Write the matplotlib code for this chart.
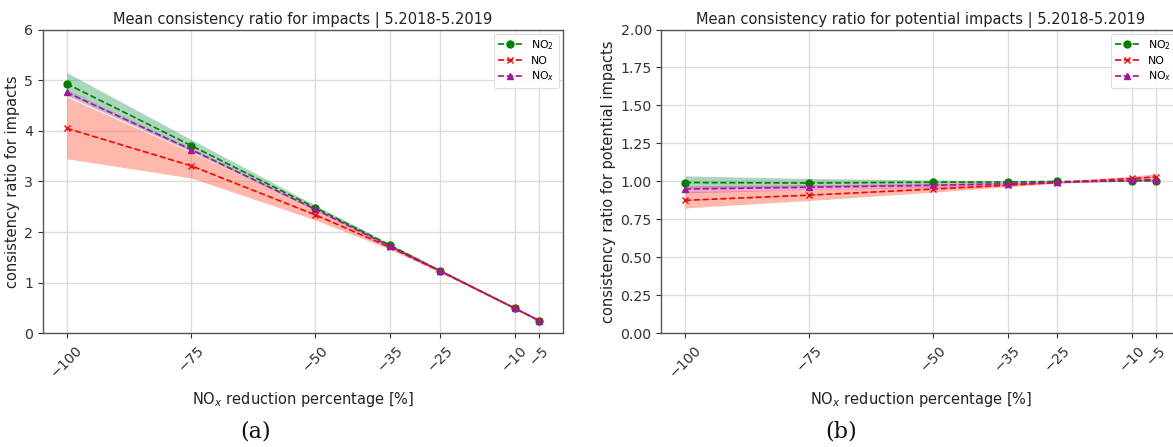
import matplotlib
matplotlib.use("Agg")
import matplotlib.pyplot as plt
import numpy as np

# NOx reduction scenarios [%]
reduction = [-100, -75, -50, -35, -25, -10, -5]
tick_labels = ["\u2212100", "\u221275", "\u221250", "\u221235", "\u221225", "\u221210", "\u22125"]

# (a) mean consistency ratio for impacts, with lower/upper band
imp_no2 = [4.93, 3.71, 2.48, 1.74, 1.24, 0.50, 0.25]
imp_no2_lo = [4.72, 3.60, 2.43, 1.72, 1.23, 0.49, 0.24]
imp_no2_hi = [5.15, 3.83, 2.53, 1.77, 1.26, 0.51, 0.26]

imp_no = [4.05, 3.31, 2.34, 1.70, 1.23, 0.50, 0.25]
imp_no_lo = [3.45, 3.07, 2.24, 1.66, 1.21, 0.49, 0.24]
imp_no_hi = [4.67, 3.58, 2.44, 1.74, 1.25, 0.51, 0.26]

imp_nox = [4.76, 3.63, 2.45, 1.72, 1.24, 0.50, 0.25]
imp_nox_lo = [4.69, 3.59, 2.43, 1.71, 1.23, 0.49, 0.24]
imp_nox_hi = [4.82, 3.67, 2.47, 1.73, 1.25, 0.51, 0.26]

# (b) mean consistency ratio for potential impacts, with lower/upper band
pot_no2 = [0.993, 0.990, 0.995, 0.997, 1.000, 1.004, 1.005]
pot_no2_lo = [0.955, 0.965, 0.980, 0.990, 0.996, 1.000, 1.000]
pot_no2_hi = [1.037, 1.020, 1.010, 1.004, 1.004, 1.008, 1.010]

pot_no = [0.876, 0.910, 0.950, 0.975, 0.993, 1.020, 1.030]
pot_no_lo = [0.826, 0.875, 0.930, 0.965, 0.988, 1.005, 1.010]
pot_no_hi = [0.935, 0.945, 0.970, 0.985, 0.998, 1.035, 1.052]

pot_nox = [0.950, 0.962, 0.975, 0.985, 0.995, 1.008, 1.012]
pot_nox_lo = [0.925, 0.945, 0.962, 0.978, 0.991, 1.003, 1.005]
pot_nox_hi = [0.972, 0.978, 0.986, 0.992, 0.999, 1.013, 1.019]

C_NO2 = "green"
C_NO = "red"
C_NOX = "#a3159b"

plt.rcParams["font.family"] = ["DejaVu Sans"]

fig = plt.figure(figsize=(11.73, 4.47), dpi=100)
ax_a = fig.add_axes([0.0367, 0.254, 0.4433, 0.680])
ax_b = fig.add_axes([0.5639, 0.254, 0.4421, 0.680])


def draw_panel(ax, series, ylabel, title, ylim, yticks, ytickfmt):
    for (y, lo, hi, color, fillc, falpha, marker, label) in series:
        ax.fill_between(reduction, lo, hi, color=fillc, alpha=falpha, linewidth=0)
    for (y, lo, hi, color, fillc, falpha, marker, label) in series:
        ax.plot(reduction, y, linestyle="--", color=color, marker=marker,
                markersize=5, linewidth=1.2, label=label)
    ax.set_xticks(reduction)
    ax.set_xticklabels(tick_labels, rotation=45)
    ax.set_ylim(*ylim)
    ax.set_yticks(yticks)
    ax.set_yticklabels([ytickfmt.format(v) for v in yticks])
    ax.grid(True, color="#dcdcdc", linewidth=1.0)
    ax.set_axisbelow(True)
    for sp in ax.spines.values():
        sp.set_color("#555555")
        sp.set_linewidth(1.0)
    ax.tick_params(axis="both", labelsize=10.2, colors="#333333", length=3.5)
    ax.set_title(title, fontsize=10.5, color="#222222", pad=4)
    ax.set_ylabel(ylabel, fontsize=10.5, color="#222222", labelpad=3)
    ax.set_xlabel("NO$_x$ reduction percentage [%]", fontsize=10.5,
                  color="#222222", labelpad=7)
    leg = ax.legend(loc="upper right", fontsize=7.8, framealpha=0.9,
                    edgecolor="#dddddd", handlelength=2.2, labelspacing=0.35,
                    borderaxespad=0.4)
    leg.get_frame().set_linewidth(0.8)


series_a = [
    (imp_no2, imp_no2_lo, imp_no2_hi, C_NO2, "#2e9a57", 0.4, "o", "NO$_2$"),
    (imp_no, imp_no_lo, imp_no_hi, C_NO, "tomato", 0.45, "x", "NO"),
    (imp_nox, imp_nox_lo, imp_nox_hi, C_NOX, "#b9a0c0", 0.6, "^", "NO$_x$"),
]
series_b = [
    (pot_no2, pot_no2_lo, pot_no2_hi, C_NO2, "#2e9a57", 0.4, "o", "NO$_2$"),
    (pot_no, pot_no_lo, pot_no_hi, C_NO, "tomato", 0.45, "x", "NO"),
    (pot_nox, pot_nox_lo, pot_nox_hi, C_NOX, "#e0409a", 0.45, "^", "NO$_x$"),
]

draw_panel(ax_a, series_a, "consistency ratio for impacts",
           "Mean consistency ratio for impacts | 5.2018-5.2019",
           (0, 6), [0, 1, 2, 3, 4, 5, 6], "{:g}")
draw_panel(ax_b, series_b, "consistency ratio for potential impacts",
           "Mean consistency ratio for potential impacts | 5.2018-5.2019",
           (0, 2), list(np.arange(0, 2.01, 0.25)), "{:.2f}")

fig.text(0.218, 0.022, "(a)", fontsize=16, family="DejaVu Serif", color="#111111", ha="center")
fig.text(0.717, 0.022, "(b)", fontsize=16, family="DejaVu Serif", color="#111111", ha="center")

fig.savefig("out.png", dpi=100)
